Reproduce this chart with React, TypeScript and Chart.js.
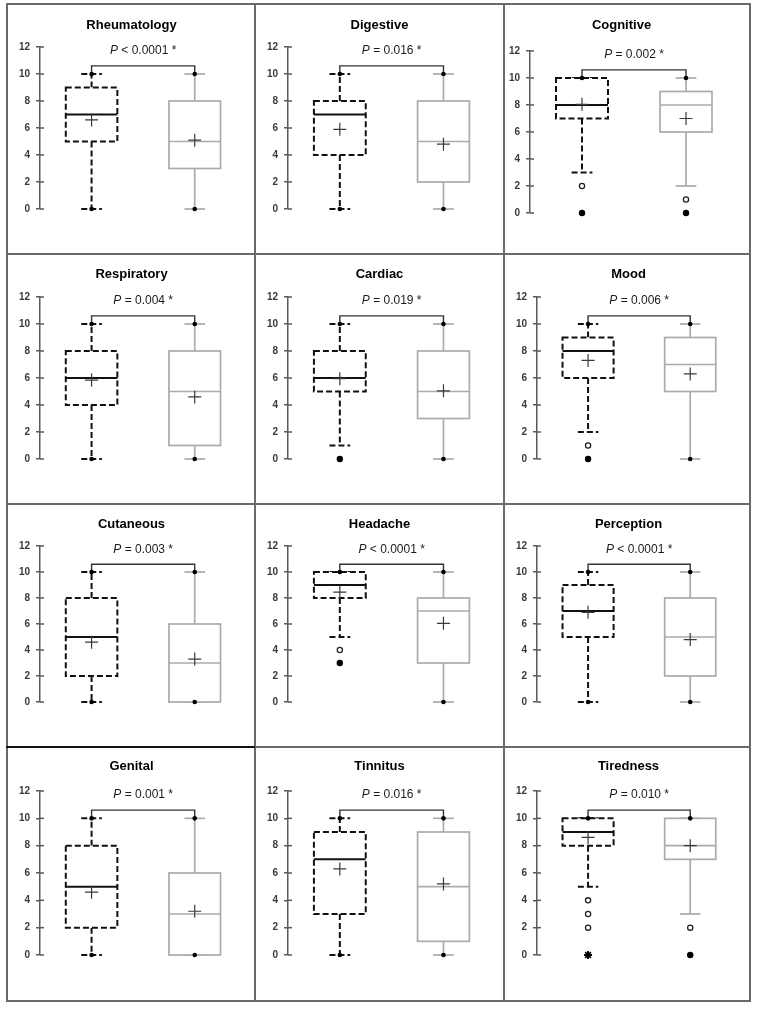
import React, { useEffect, useRef } from 'react';
import { Chart, registerables } from 'chart.js';

Chart.register(...registerables);

const FONT = '"Liberation Sans", Arial, sans-serif';

// ---------- data ----------
const titles = ['Rheumatology', 'Digestive', 'Cognitive', 'Respiratory', 'Cardiac', 'Mood', 'Cutaneous', 'Headache', 'Perception', 'Genital', 'Tinnitus', 'Tiredness'];
const pLabels = ['< 0.0001 *', '= 0.016 *', '= 0.002 *', '= 0.004 *', '= 0.019 *', '= 0.006 *', '= 0.003 *', '< 0.0001 *', '< 0.0001 *', '= 0.001 *', '= 0.016 *', '= 0.010 *'];
const yTicks = [0, 2, 4, 6, 8, 10, 12];

// group A (dashed black boxes)
const aLow = [0, 0, 3, 0, 1, 2, 0, 5, 0, 0, 0, 5];
const aQ1 = [5, 4, 7, 4, 5, 6, 2, 8, 5, 2, 3, 8];
const aMed = [7, 7, 8, 6, 6, 8, 5, 9, 7, 5, 7, 9];
const aQ3 = [9, 8, 10, 8, 8, 9, 8, 10, 9, 8, 9, 10];
const aHigh = [10, 10, 10, 10, 10, 10, 10, 10, 10, 10, 10, 10];
const aMean = [6.6, 5.9, 8.05, 5.85, 5.95, 7.3, 4.6, 8.45, 6.9, 4.6, 6.3, 8.6];
const aMin = [0, 0, 0, 0, 0, 0, 0, 3, 0, 0, 0, 0];
const aMax = [10, 10, 10, 10, 10, 10, 10, 10, 10, 10, 10, 10];
const aOpen = [[], [], [2], [], [], [1], [], [4], [], [], [], [4, 3, 2]];
const aFilled = [[], [], [0], [], [0], [0], [], [3], [], [], [], []];
const aStar = [[], [], [], [], [], [], [], [], [], [], [], [0]];

// group B (solid grey boxes)
const bLow = [0, 0, 2, 0, 0, 0, 0, 0, 0, 0, 0, 3];
const bQ1 = [3, 2, 6, 1, 3, 5, 0, 3, 2, 0, 1, 7];
const bMed = [5, 5, 8, 5, 5, 7, 3, 7, 5, 3, 5, 8];
const bQ3 = [8, 8, 9, 8, 8, 9, 6, 8, 8, 6, 9, 10];
const bHigh = [10, 10, 10, 10, 10, 10, 10, 10, 10, 10, 10, 10];
const bMean = [5.1, 4.8, 7.0, 4.6, 5.05, 6.3, 3.3, 6.05, 4.8, 3.2, 5.2, 8.0];
const bMin = [0, 0, 0, 0, 0, 0, 0, 0, 0, 0, 0, 0];
const bMax = [10, 10, 10, 10, 10, 10, 10, 10, 10, 10, 10, 10];
const bOpen = [[], [], [1], [], [], [], [], [], [], [], [], [2]];
const bFilled = [[], [], [0], [], [], [], [], [], [], [], [], [0]];

const bracketLevel = 10.6;
const pLevel = 11.7;

// ---------- layout ----------
const GROUP_X = [1, 3];
const colX = [7, 255, 504, 750];
const rowY = [4, 254, 504, 747, 1001];
const rowMetrics = [
  { y12: 47, y0: 209, title: 25 },
  { y12: 297, y0: 459, title: 274 },
  { y12: 546, y0: 702, title: 524 },
  { y12: 791, y0: 955, title: 766 },
];
const panelShift = [
  { dx: 0, dy: 0 }, { dx: 0, dy: 0 }, { dx: -7, dy: 4 },
  { dx: 0, dy: 0 }, { dx: 0, dy: 0 }, { dx: 0, dy: 0 },
  { dx: 0, dy: 0 }, { dx: 0, dy: 0 }, { dx: 0, dy: 0 },
  { dx: 0, dy: 0 }, { dx: 0, dy: 0 }, { dx: 0, dy: 0 },
];
const AXIS_COLOR = '#5a5a5a';
const GREY = '#ababab';

function drawBox(ctx: any, X: any, Y: any, cx: number, low: number, q1: number, med: number, q3: number, high: number, dashed: boolean) {
  const px = X(cx);
  const half = X(cx + 0.5) - px;
  const cap = X(cx + 0.2) - px;
  const line = (x1: number, y1: number, x2: number, y2: number) => {
    ctx.beginPath();
    ctx.moveTo(x1, y1);
    ctx.lineTo(x2, y2);
    ctx.stroke();
  };
  ctx.save();
  ctx.strokeStyle = dashed ? '#111' : GREY;
  ctx.lineWidth = dashed ? 2 : 1.7;
  ctx.setLineDash(dashed ? [6, 3] : []);
  if (high > q3) line(px, Y(q3), px, Y(high));
  if (low < q1) line(px, Y(q1), px, Y(low));
  line(px - cap, Y(high), px + cap, Y(high));
  line(px - cap, Y(low), px + cap, Y(low));
  const top = Y(q3), bot = Y(q1);
  ctx.fillStyle = '#fff';
  ctx.fillRect(px - half, top, 2 * half, bot - top);
  ctx.strokeRect(px - half, top, 2 * half, bot - top);
  ctx.setLineDash([]);
  line(px - half, Y(med), px + half, Y(med));
  ctx.restore();
}

function makePlugin(i: number) {
  return {
    id: 'boxplot' + i,
    beforeDatasetsDraw(chart: any) {
      const { ctx, chartArea } = chart;
      const xs = chart.scales.x, ys = chart.scales.y;
      const X = (v: number) => xs.getPixelForValue(v);
      const Y = (v: number) => ys.getPixelForValue(v);
      ctx.save();
      // inner half of crossing tick marks
      ctx.strokeStyle = AXIS_COLOR;
      ctx.lineWidth = 1.5;
      ys.ticks.forEach((t: any) => {
        const py = Y(t.value);
        ctx.beginPath();
        ctx.moveTo(chartArea.left, py);
        ctx.lineTo(chartArea.left + 4, py);
        ctx.stroke();
      });
      // significance bracket
      ctx.strokeStyle = '#333';
      ctx.lineWidth = 1.4;
      ctx.beginPath();
      ctx.moveTo(X(GROUP_X[0]), Y(aHigh[i]));
      ctx.lineTo(X(GROUP_X[0]), Y(bracketLevel));
      ctx.lineTo(X(GROUP_X[1]), Y(bracketLevel));
      ctx.lineTo(X(GROUP_X[1]), Y(bHigh[i]));
      ctx.stroke();
      ctx.restore();
      drawBox(ctx, X, Y, GROUP_X[0], aLow[i], aQ1[i], aMed[i], aQ3[i], aHigh[i], true);
      drawBox(ctx, X, Y, GROUP_X[1], bLow[i], bQ1[i], bMed[i], bQ3[i], bHigh[i], false);
    },
    afterDraw(chart: any) {
      const { ctx } = chart;
      const xs = chart.scales.x, ys = chart.scales.y;
      const cx = xs.getPixelForValue((GROUP_X[0] + GROUP_X[1]) / 2);
      const cy = ys.getPixelForValue(pLevel);
      ctx.save();
      ctx.fillStyle = '#1a1a1a';
      ctx.textBaseline = 'middle';
      const italic = 'italic 12px ' + FONT;
      const normal = '12px ' + FONT;
      const rest = ' ' + pLabels[i];
      ctx.font = italic;
      const w1 = ctx.measureText('P').width;
      ctx.font = normal;
      const w2 = ctx.measureText(rest).width;
      let x0 = cx - (w1 + w2) / 2;
      ctx.textAlign = 'left';
      ctx.font = italic;
      ctx.fillText('P', x0, cy);
      ctx.font = normal;
      ctx.fillText(rest, x0 + w1, cy);
      ctx.restore();
    },
  };
}

function Panel({ i }: { i: number }) {
  const ref = useRef<HTMLCanvasElement>(null);
  const col = i % 3;
  const row = Math.floor(i / 3);
  const left = colX[col] + 1;
  const top = rowY[row] + 1;
  const w = colX[col + 1] - colX[col] - 2;
  const h = rowY[row + 1] - rowY[row] - 2;

  useEffect(() => {
    const { dx, dy } = panelShift[i];
    const m = rowMetrics[row];
    const axisX = 32 + dx;
    const y12 = m.y12 + dy - top;
    const y0 = m.y0 + dy - top;
    const titleC = m.title - top;
    const yW = 25;
    const unit = 52;
    const lh = 13 * 1.2;
    const tPadTop = titleC - lh / 2;
    const tPadBottom = y12 - tPadTop - lh;

    const pts = (xv: number, arr: number[]) => arr.map((v) => ({ x: xv, y: v }));
    const dots: any[] = [];
    if (aMin[i] === aLow[i]) dots.push({ x: GROUP_X[0], y: aMin[i] });
    if (aMax[i] === aHigh[i]) dots.push({ x: GROUP_X[0], y: aMax[i] });
    if (bMin[i] === bLow[i]) dots.push({ x: GROUP_X[1], y: bMin[i] });
    if (bMax[i] === bHigh[i]) dots.push({ x: GROUP_X[1], y: bMax[i] });

    const chart = new Chart(ref.current as HTMLCanvasElement, {
      type: 'scatter',
      data: {
        datasets: [
          {
            data: [{ x: GROUP_X[0], y: aMean[i] }, { x: GROUP_X[1], y: bMean[i] }],
            pointStyle: 'cross', pointRadius: 6.5, borderColor: '#3a3a3a', borderWidth: 1.2, clip: false,
          },
          {
            data: dots,
            pointStyle: 'circle', pointRadius: 2.3, backgroundColor: '#000', borderColor: '#000', borderWidth: 0, clip: false,
          },
          {
            data: [...pts(GROUP_X[0], aOpen[i]), ...pts(GROUP_X[1], bOpen[i])],
            pointStyle: 'circle', pointRadius: 2.6, backgroundColor: '#fff', borderColor: '#222', borderWidth: 1.3, clip: false,
          },
          {
            data: [...pts(GROUP_X[0], aFilled[i]), ...pts(GROUP_X[1], bFilled[i])],
            pointStyle: 'circle', pointRadius: 3.2, backgroundColor: '#000', borderColor: '#000', borderWidth: 0, clip: false,
          },
          {
            data: pts(GROUP_X[0], aStar[i]),
            pointStyle: 'star', pointRadius: 4, borderColor: '#000', borderWidth: 1.8, clip: false,
          },
        ],
      },
      options: {
        animation: false,
        responsive: false,
        devicePixelRatio: 1,
        events: [],
        layout: {
          padding: { left: axisX - yW, right: w - (axisX + 4 * unit), top: 0, bottom: h - y0 },
        },
        plugins: {
          legend: { display: false },
          tooltip: { enabled: false },
          title: {
            display: true,
            text: titles[i],
            color: '#000',
            font: { family: FONT, size: 13, weight: 'bold', lineHeight: 1.2 },
            padding: { top: tPadTop, bottom: tPadBottom },
          },
        },
        scales: {
          x: { type: 'linear', min: 0, max: 4, display: false },
          y: {
            type: 'linear',
            min: 0,
            max: 12,
            afterFit: (s: any) => { s.width = yW; },
            afterBuildTicks: (s: any) => { s.ticks = yTicks.map((v) => ({ value: v })); },
            ticks: {
              stepSize: 2,
              padding: 6,
              color: '#3a3a3a',
              font: { family: FONT, size: 10, weight: 'bold' },
            },
            grid: { drawOnChartArea: false, drawTicks: true, tickLength: 4, color: AXIS_COLOR, lineWidth: 1.5 },
            border: { display: true, color: AXIS_COLOR, width: 1.5 },
          },
        },
      },
      plugins: [makePlugin(i)],
    } as any);
    return () => chart.destroy();
  }, []);

  return (
    <canvas
      ref={ref}
      width={w}
      height={h}
      style={{ position: 'absolute', left, top, width: w, height: h }}
    />
  );
}

const LINE = '#6a6a6a';

export default function App() {
  const lines: any[] = [];
  colX.forEach((x, k) => {
    lines.push(<div key={'v' + k} style={{ position: 'absolute', left: x - 1, top: rowY[0] - 1, width: 2, height: rowY[4] - rowY[0] + 2, background: LINE }} />);
  });
  rowY.forEach((y, k) => {
    lines.push(<div key={'h' + k} style={{ position: 'absolute', left: colX[0] - 1, top: y - 1, width: colX[3] - colX[0] + 2, height: 2, background: LINE }} />);
  });
  lines.push(<div key="hb" style={{ position: 'absolute', left: colX[0] - 1, top: rowY[3] - 1, width: colX[1] - colX[0] + 1, height: 2, background: '#111' }} />);
  return (
    <div style={{ position: 'absolute', left: 0, top: 0, width: 757, height: 1010, background: '#fff' }}>
      {titles.map((_, i) => <Panel key={i} i={i} />)}
      {lines}
    </div>
  );
}
